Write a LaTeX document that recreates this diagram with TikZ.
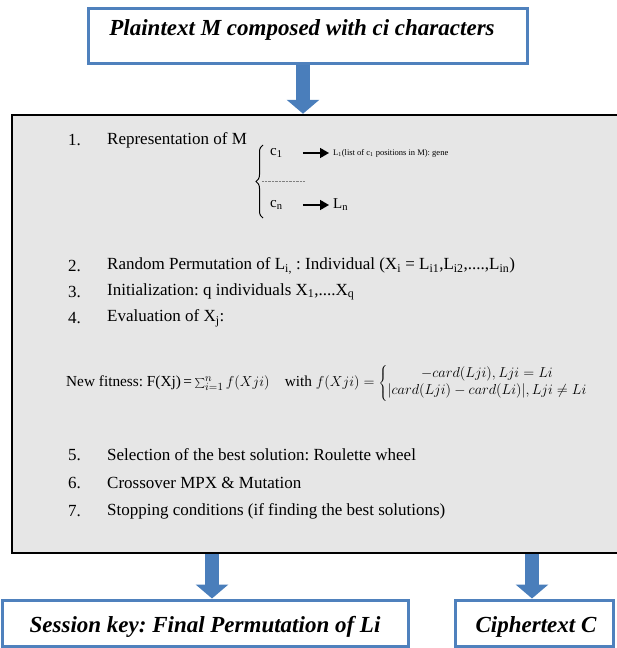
\documentclass[tikz,border=0pt]{standalone}
\usepackage{fontspec}
\setmainfont{Liberation Serif}
\usetikzlibrary{arrows.meta}
\usetikzlibrary{decorations.pathreplacing}
\definecolor{boxblue}{HTML}{4F81BD}
\definecolor{arrowblue}{HTML}{4A7EBB}
\definecolor{panelgray}{HTML}{E6E6E6}
\frenchspacing

\begin{document}
\begin{tikzpicture}[x=1pt,y=-1pt,
  bluebox/.style={draw=boxblue, line width=3pt, fill=white, inner sep=0pt},
  boxtext/.style={inner sep=0pt, font=\fontsize{23}{26}\selectfont\bfseries\itshape},
  itemtext/.style={anchor=west, inner sep=0pt, font=\fontsize{17}{20}\selectfont},
  blockarrow/.style={draw=arrowblue, line width=14pt, -{Triangle[width=32pt,length=14pt]}},
  smallarrow/.style={line width=1.6pt, -{Triangle[width=10pt,length=9pt]}}]
\useasboundingbox (0,0) rectangle (617,648);
% input and output boxes
\node[bluebox, minimum width=439pt, minimum height=55pt] (plain) at (307.5,35.5) {};
\node[boxtext] (plaintxt) at (302,30) {Plaintext M composed with ci characters};
\node[bluebox, minimum width=406pt, minimum height=46pt] (key) at (205,623) {};
\node[boxtext] (keytxt) at (205,627) {Session key: Final Permutation of Li};
\node[bluebox, minimum width=158pt, minimum height=46pt] (cipher) at (534,623) {};
\node[boxtext] (ciphertxt) at (536,627) {Ciphertext C};
% algorithm panel
\node[draw=black, line width=2.5pt, fill=panelgray, minimum width=610pt, minimum height=438pt] (main) at (317,334) {};
\coordinate (inarrow) at (303,0);
\coordinate (keyarrow) at (212,0);
\coordinate (cipherarrow) at (532,0);
\draw[blockarrow] (plain.south -| inarrow) -- (main.north -| inarrow);
\draw[blockarrow] (main.south -| keyarrow) -- (key.north -| keyarrow);
\draw[blockarrow] (main.south -| cipherarrow) -- (cipher.north -| cipherarrow);
% step 1
\node[itemtext] (n1) at (68,140) {1.};
\node[itemtext] (t1) at (107,140) {Representation of M};
\draw[decorate, decoration={brace, amplitude=7pt}, line width=1pt] (263,218) -- (263,145);
\node[anchor=west, inner sep=0pt, font=\fontsize{15}{17}\selectfont] (c1) at (270,153) {c\textsubscript{1}};
\node[anchor=west, inner sep=0pt, font=\fontsize{8.5}{10}\selectfont] (L1) at (333,153) {L\textsubscript{1}(list of c\textsubscript{1} positions in M): gene};
\node[anchor=west, inner sep=0pt, font=\fontsize{15}{17}\selectfont] (cn) at (270,205) {c\textsubscript{n}};
\node[anchor=west, inner sep=0pt, font=\fontsize{15}{17}\selectfont] (Ln) at (333,205) {L\textsubscript{n}};
\draw[smallarrow, shorten <=20pt, shorten >=4pt] (c1) -- (L1);
\draw[smallarrow, shorten <=20pt, shorten >=4pt] (cn) -- (Ln);
\draw[densely dotted, gray] (262,181) -- (305,181);
% steps 2 to 4
\node[itemtext] (n2) at (68,266) {2.};
\node[itemtext] (t2) at (107,266) {Random Permutation of L\textsubscript{i,} : Individual (X\textsubscript{i} = L\textsubscript{i1},L\textsubscript{i2},....,L\textsubscript{in})};
\node[itemtext] (n3) at (68,292) {3.};
\node[itemtext] (t3) at (107,292) {Initialization: q individuals X\textsubscript{1},....X\textsubscript{q}};
\node[itemtext] (n4) at (68,318) {4.};
\node[itemtext] (t4) at (107,318) {Evaluation of X\textsubscript{j}:};
\node[anchor=west, inner sep=0pt, font=\fontsize{15.3}{17}\selectfont] (fit) at (66,383) {New fitness: F(Xj)\,=\,$\sum_{i=1}^{n} f(Xji)$\quad with $f(Xji)=\left\{\begin{array}{@{}c@{}} -card(Lji),Lji=Li\\ |card(Lji)-card(Li)|,Lji\neq Li\end{array}\right.$};
% steps 5 to 7
\node[itemtext] (n5) at (68,455) {5.};
\node[itemtext] (t5) at (107,455) {Selection of the best solution: Roulette wheel};
\node[itemtext] (n6) at (68,483) {6.};
\node[itemtext] (t6) at (107,483) {Crossover MPX \& Mutation};
\node[itemtext] (n7) at (68,511) {7.};
\node[itemtext] (t7) at (107,511) {Stopping conditions (if finding the best solutions)};
\end{tikzpicture}
\end{document}
